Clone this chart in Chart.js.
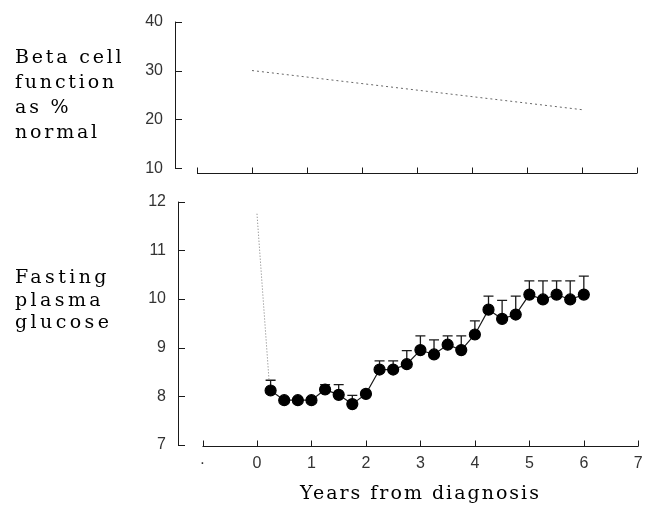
<!DOCTYPE html>
<html>
<head>
<meta charset="utf-8">
<script src="https://cdn.jsdelivr.net/npm/chart.js@4.4.1/dist/chart.umd.min.js"></script>
<style>
  body { margin: 0; background: #fff; }
  #wrap { position: relative; width: 645px; height: 508px; overflow: hidden; }
  canvas { position: absolute; left: 0; }
  .lbl { position: absolute; left: 15px; font-family: "DejaVu Serif", serif; color: #000; white-space: nowrap; }
  .beta { font-size: 19px; letter-spacing: 2.8px; line-height: 25px; top: 44px; }
  .glu { font-size: 19px; letter-spacing: 3.4px; line-height: 22.5px; top: 265px; }
  .xtitle { position: absolute; left: 300px; top: 481px; font-family: "DejaVu Serif", serif;
    font-size: 19px; letter-spacing: 2px; color: #000; white-space: nowrap; }
</style>
</head>
<body>
<div id="wrap">
  <canvas id="betaChart" width="645" height="190" style="top:0px"></canvas>
  <canvas id="glucoseChart" width="645" height="328" style="top:180px"></canvas>
  <div class="lbl beta">Beta cell<br>function<br>as %<br>normal</div>
  <div class="lbl glu">Fasting<br>plasma<br>glucose</div>
  <div class="xtitle">Years from diagnosis</div>
</div>
<script>
const yearTicks = [-1, 0, 1, 2, 3, 4, 5, 6, 7];
const yearLabels = ['·', '0', '1', '2', '3', '4', '5', '6', '7'];

const betaYears = [0, 6];
const betaPct = [30, 22];
const betaTicks = [10, 20, 30, 40];

const glucoseTicks = [7, 8, 9, 10, 11, 12];
const glucoseYears = [0.25, 0.5, 0.75, 1, 1.25, 1.5, 1.75, 2, 2.25, 2.5, 2.75, 3,
  3.25, 3.5, 3.75, 4, 4.25, 4.5, 4.75, 5, 5.25, 5.5, 5.75, 6];
const glucoseMean = [8.12, 7.92, 7.92, 7.92, 8.14, 8.03, 7.84, 8.05, 8.55, 8.55, 8.66, 8.95,
  8.86, 9.06, 8.95, 9.27, 9.78, 9.59, 9.68, 10.09, 9.99, 10.09, 9.99, 10.09];
const glucoseSE = [0.21, 0.05, 0.05, 0.05, 0.10, 0.21, 0.18, 0.05, 0.18, 0.18, 0.28, 0.29,
  0.30, 0.18, 0.29, 0.28, 0.28, 0.38, 0.38, 0.28, 0.38, 0.28, 0.38, 0.38];
// dotted drop from diagnosis to first measurement
const dropYears = [0, 0.22];
const dropGlucose = [11.75, 8.35];

const tickFont = { family: '"Liberation Sans", Arial, sans-serif', size: 16 };
const ink = '#1a1a1a';

// draws the axis lines by hand so the x axis can start at year -1 (gap at the corner)
const axesPlugin = {
  id: 'handAxes',
  afterDraw(chart, args, opts) {
    const ctx = chart.ctx;
    const x = chart.scales.x, y = chart.scales.y;
    const area = chart.chartArea;
    ctx.save();
    ctx.strokeStyle = ink;
    ctx.lineWidth = 1;
    ctx.beginPath();
    // y axis with inward ticks
    ctx.moveTo(area.left + 0.5, area.top);
    ctx.lineTo(area.left + 0.5, area.bottom);
    y.ticks.forEach(t => {
      const py = Math.round(y.getPixelForValue(t.value)) + 0.5;
      ctx.moveTo(area.left, py);
      ctx.lineTo(area.left + 7, py);
    });
    // x axis with upward ticks
    const ay = Math.round(area.bottom + opts.drop) + 0.5;
    ctx.moveTo(x.getPixelForValue(-1), ay);
    ctx.lineTo(area.right, ay);
    yearTicks.forEach(v => {
      const px = Math.round(x.getPixelForValue(v)) + 0.5;
      ctx.moveTo(px, ay);
      ctx.lineTo(px, ay - 6);
    });
    ctx.stroke();
    ctx.restore();
  }
};

const errorBarPlugin = {
  id: 'errorBars',
  beforeDatasetsDraw(chart) {
    const meta = chart.getDatasetMeta(0);
    const y = chart.scales.y;
    const ctx = chart.ctx;
    ctx.save();
    ctx.strokeStyle = ink;
    ctx.lineWidth = 1.3;
    meta.data.forEach((pt, i) => {
      const top = y.getPixelForValue(glucoseMean[i] + glucoseSE[i]);
      ctx.beginPath();
      ctx.moveTo(pt.x, pt.y);
      ctx.lineTo(pt.x, top);
      ctx.moveTo(pt.x - 5, top);
      ctx.lineTo(pt.x + 5, top);
      ctx.stroke();
    });
    ctx.restore();
  }
};

const fixedTicks = values => scale => { scale.ticks = values.map(v => ({ value: v })); };

new Chart(document.getElementById('betaChart'), {
  type: 'scatter',
  data: {
    datasets: [{
      data: betaYears.map((v, i) => ({ x: v, y: betaPct[i] })),
      showLine: true,
      borderColor: '#666',
      borderWidth: 1,
      borderDash: [2, 3],
      pointRadius: 0
    }]
  },
  options: {
    responsive: false,
    animation: false,
    events: [],
    layout: { padding: { top: 20, bottom: 20, left: 0, right: 8 } },
    plugins: { legend: { display: false }, tooltip: { enabled: false }, handAxes: { drop: 5 } },
    scales: {
      x: { type: 'linear', min: -1.4, max: 7, display: false },
      y: {
        min: 10, max: 40,
        afterBuildTicks: fixedTicks(betaTicks),
        afterFit: s => { s.width = 175; },
        grid: { display: false, drawTicks: false },
        border: { display: false },
        ticks: { font: tickFont, color: '#333', padding: 12 }
      }
    }
  },
  plugins: [axesPlugin]
});

new Chart(document.getElementById('glucoseChart'), {
  type: 'scatter',
  data: {
    datasets: [{
      data: glucoseYears.map((v, i) => ({ x: v, y: glucoseMean[i] })),
      showLine: true,
      borderColor: ink,
      borderWidth: 1.2,
      pointRadius: 5.5,
      pointBackgroundColor: '#000',
      pointBorderColor: '#000'
    }, {
      data: dropYears.map((v, i) => ({ x: v, y: dropGlucose[i] })),
      showLine: true,
      borderColor: '#777',
      borderWidth: 1,
      borderDash: [1, 2],
      pointRadius: 0
    }]
  },
  options: {
    responsive: false,
    animation: false,
    events: [],
    layout: { padding: { top: 20, bottom: 0, left: 0, right: 3 } },
    plugins: { legend: { display: false }, tooltip: { enabled: false }, handAxes: { drop: 1 } },
    scales: {
      x: {
        type: 'linear', min: -1.45, max: 7,
        afterBuildTicks: fixedTicks(yearTicks),
        afterFit: s => { s.height = 63; s.paddingLeft = 0; s.paddingRight = 0; },
        grid: { display: false, drawTicks: false },
        border: { display: false },
        ticks: { font: tickFont, color: '#333', padding: 9, maxRotation: 0,
          callback: v => yearLabels[yearTicks.indexOf(v)] }
      },
      y: {
        min: 7, max: 12,
        afterBuildTicks: fixedTicks(glucoseTicks),
        afterFit: s => { s.width = 178; },
        grid: { display: false, drawTicks: false },
        border: { display: false },
        ticks: { font: tickFont, color: '#333', padding: 12 }
      }
    }
  },
  plugins: [axesPlugin, errorBarPlugin]
});
</script>
</body>
</html>
